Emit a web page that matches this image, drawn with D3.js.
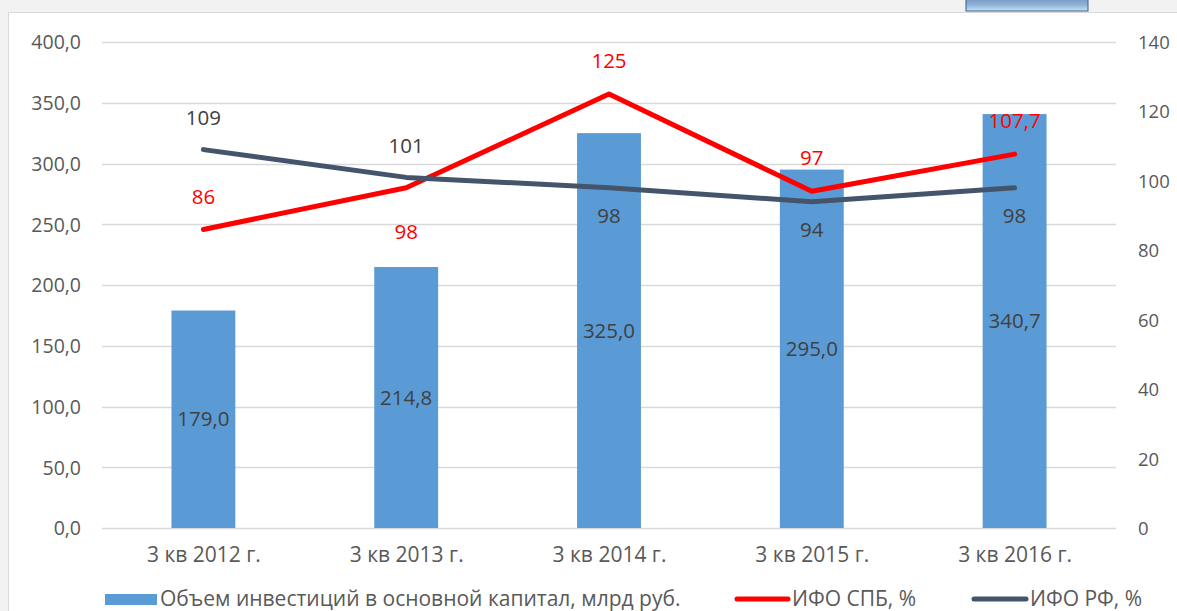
<!DOCTYPE html>
<html><head><meta charset="utf-8">
<script src="https://cdn.jsdelivr.net/npm/d3@7"></script>
<style>
html,body{margin:0;padding:0;background:#f2f2f2;}
svg{display:block;}
text{font-family:"Open Sans","Noto Sans",sans-serif;}
</style></head>
<body>
<svg id="chart" width="1177" height="611"></svg>
<script>
const categories = ["3 кв 2012 г.","3 кв 2013 г.","3 кв 2014 г.","3 кв 2015 г.","3 кв 2016 г."];
const investValues = [179.0, 214.8, 325.0, 295.0, 340.7];
const investLabels = ["179,0","214,8","325,0","295,0","340,7"];
const spbValues = [86, 98, 125, 97, 107.7];
const spbLabels = ["86","98","125","97","107,7"];
const spbLabelSide = ["above","below","above","above","above"];
const rfValues = [109, 101, 98, 94, 98];
const rfLabels = ["109","101","98","94","98"];
const rfLabelSide = ["above","above","below","below","below"];
const leftTicks = [0,50,100,150,200,250,300,350,400];
const rightTicks = [0,20,40,60,80,100,120,140];
const seriesNames = ["Объем инвестиций в основной капитал, млрд руб.","ИФО СПБ, %","ИФО РФ, %"];

const svg = d3.select("#chart");
const W = 1177, H = 611;
const m = {left:102, right:1116, top:42, bottom:528};

// panel
svg.append("rect").attr("x",8.5).attr("y",12.5).attr("width",W).attr("height",H)
  .attr("fill","#ffffff").attr("stroke","#d9d9d9").attr("stroke-width",1);

// decorative button at top
const defs = svg.append("defs");
const g1 = defs.append("linearGradient").attr("id","btn").attr("x1",0).attr("y1",0).attr("x2",0).attr("y2",1);
g1.append("stop").attr("offset","0%").attr("stop-color","#6e8fb8");
g1.append("stop").attr("offset","60%").attr("stop-color","#8fb3d8");
g1.append("stop").attr("offset","100%").attr("stop-color","#c4e4f8");
svg.append("rect").attr("x",966).attr("y",-4).attr("width",122).attr("height",15)
  .attr("fill","url(#btn)").attr("stroke","#3d5f86").attr("stroke-width",1);

const x = d3.scaleBand().domain(categories).range([m.left,m.right]).paddingInner(0.685).paddingOuter(0.3425);
const xc = d3.scalePoint().domain(categories).range([m.left,m.right]).padding(0.5);
const yL = d3.scaleLinear().domain([0,400]).range([m.bottom,m.top]);
const yR = d3.scaleLinear().domain([0,140]).range([m.bottom,m.top]);
const FF = '"Open Sans","Noto Sans",sans-serif';

// gridlines
svg.append("g").selectAll("line").data(leftTicks).join("line")
  .attr("x1",m.left).attr("x2",m.right)
  .attr("y1",d=>Math.round(yL(d))+0.5).attr("y2",d=>Math.round(yL(d))+0.5)
  .attr("stroke","#d9d9d9").attr("stroke-width",1.5);

// left axis
const axL = d3.axisLeft(yL).tickValues(leftTicks).tickSize(0).tickPadding(0)
  .tickFormat(d=>d3.format(".1f")(d).replace(".",","));
const gL = svg.append("g").attr("transform",`translate(81,0)`).call(axL);
gL.select(".domain").remove();
gL.selectAll("text").attr("font-size",19.5).attr("fill","#595959").attr("dy","0.35em").style("font-family",FF);

// right axis
const axR = d3.axisRight(yR).tickValues(rightTicks).tickSize(0).tickPadding(0);
const gR = svg.append("g").attr("transform",`translate(1138,0)`).call(axR);
gR.select(".domain").remove();
gR.selectAll("text").attr("font-size",18.5).attr("fill","#595959").attr("dy","0.35em").style("font-family",FF);

// x axis labels
const axX = d3.axisBottom(xc).tickSize(0).tickPadding(0);
const gX = svg.append("g").attr("transform",`translate(0,${m.bottom+19})`).call(axX);
gX.select(".domain").remove();
gX.selectAll("text").attr("font-size",21).attr("fill","#595959").attr("dy","0.71em").style("font-family",FF);

// bars
svg.append("g").selectAll("rect").data(investValues).join("rect")
  .attr("x",(d,i)=>x(categories[i])).attr("width",x.bandwidth())
  .attr("y",d=>yL(d)).attr("height",d=>yL(0)-yL(d)).attr("fill","#5b9bd5");

// bar labels
svg.append("g").selectAll("text").data(investValues).join("text")
  .attr("x",(d,i)=>xc(categories[i])).attr("y",d=>(yL(d)+yL(0))/2)
  .attr("dy","0.35em").attr("text-anchor","middle").attr("font-size",20.5).attr("fill","#404040")
  .text((d,i)=>investLabels[i]);

// lines
const lineR = d3.line().x((d,i)=>xc(categories[i])).y(d=>yR(d));
svg.append("path").datum(spbValues).attr("d",lineR).attr("fill","none")
  .attr("stroke","#ff0000").attr("stroke-width",5).attr("stroke-linecap","round").attr("stroke-linejoin","round");
svg.append("path").datum(rfValues).attr("d",lineR).attr("fill","none")
  .attr("stroke","#44546a").attr("stroke-width",5).attr("stroke-linecap","round").attr("stroke-linejoin","round");

function pointLabels(vals, labels, sides, color, above, below){
  svg.append("g").selectAll("text").data(vals).join("text")
    .attr("x",(d,i)=>xc(categories[i]))
    .attr("y",(d,i)=>yR(d) + (sides[i]==="above" ? above : below))
    .attr("dy","0.35em").attr("text-anchor","middle").attr("font-size",20.5).attr("fill",color)
    .text((d,i)=>labels[i]);
}
pointLabels(spbValues, spbLabels, spbLabelSide, "#ff0000", -33, 44);
pointLabels(rfValues, rfLabels, rfLabelSide, "#404040", -32, 28);

// legend
const ly = 599;
const leg = svg.append("g");
leg.append("rect").attr("x",105).attr("y",ly-5).attr("width",52).attr("height",11).attr("fill","#5b9bd5");
leg.append("text").attr("x",160).attr("y",ly).attr("dy","0.35em").attr("font-size",21).attr("fill","#595959").text(seriesNames[0]);
leg.append("line").attr("x1",737).attr("x2",788).attr("y1",ly).attr("y2",ly)
  .attr("stroke","#ff0000").attr("stroke-width",5).attr("stroke-linecap","round");
leg.append("text").attr("x",792).attr("y",ly).attr("dy","0.35em").attr("font-size",21).attr("fill","#595959").text(seriesNames[1]);
leg.append("line").attr("x1",974).attr("x2",1026).attr("y1",ly).attr("y2",ly)
  .attr("stroke","#44546a").attr("stroke-width",5).attr("stroke-linecap","round");
leg.append("text").attr("x",1030).attr("y",ly).attr("dy","0.35em").attr("font-size",21).attr("fill","#595959").text(seriesNames[2]);
</script>
</body></html>
